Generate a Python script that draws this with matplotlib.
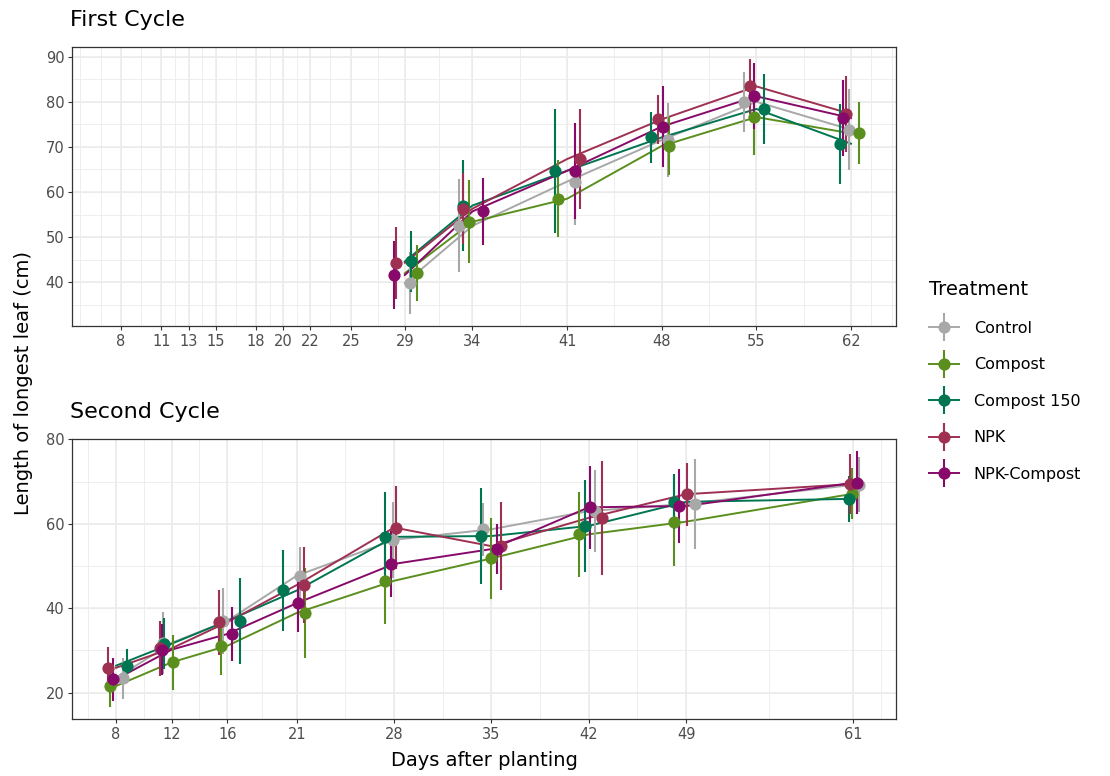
import matplotlib
matplotlib.use('Agg')
import matplotlib.pyplot as plt
from matplotlib.lines import Line2D
from matplotlib.legend_handler import HandlerTuple
import numpy as np

plt.rcParams['font.family'] = ['DejaVu Sans']

treatments = ['Control', 'Compost', 'Compost 150', 'NPK', 'NPK-Compost']
colors = ['#A8A8A8', '#5A8F1E', '#007552', '#9E3052', '#870A6A']

# ---- First cycle ----
days_1 = [29, 34, 41, 48, 55, 62]
breaks_1 = [8, 11, 13, 15, 18, 20, 22, 25, 29, 34, 41, 48, 55, 62]
mean_1 = [
    [39.8, 52.5, 62.3, 71.5, 80.0, 73.8],   # Control
    [42.0, 53.4, 58.5, 70.2, 76.6, 73.0],   # Compost
    [44.6, 57.0, 64.7, 72.1, 78.4, 70.7],   # Compost 150
    [44.3, 56.3, 67.3, 76.1, 83.4, 77.3],   # NPK
    [41.6, 55.7, 64.7, 74.5, 81.2, 76.4],   # NPK-Compost
]
sd_1 = [
    [6.8, 10.3, 9.7, 8.2, 6.7, 9.0],
    [6.2, 9.2, 8.5, 6.5, 8.4, 6.9],
    [6.8, 10.0, 13.8, 5.6, 7.8, 8.9],
    [8.0, 7.8, 11.0, 5.5, 6.1, 8.4],
    [7.5, 7.5, 10.6, 8.9, 7.3, 8.4],
]
# jitter of points / error bars (days)
jit_1 = [
    [0.35, -0.96, 0.59, 0.44, -0.94, -0.13],
    [0.91, -0.27, -0.64, 0.54, -0.15, 0.59],
    [0.47, -0.72, -0.89, -0.76, 0.54, -0.81],
    [-0.69, -0.67, 0.96, -0.27, -0.44, -0.37],
    [-0.81, 0.81, 0.59, 0.10, -0.20, -0.57],
]

# ---- Second cycle ----
days_2 = [8, 12, 16, 21, 28, 35, 42, 49, 61]
breaks_2 = [8, 12, 16, 21, 28, 35, 42, 49, 61]
mean_2 = [
    [23.4, 31.8, 37.0, 47.7, 56.2, 58.7, 63.0, 64.7, 69.2],
    [21.6, 27.2, 31.1, 38.9, 46.5, 51.8, 57.5, 60.5, 67.1],
    [26.4, 31.6, 37.0, 44.2, 56.9, 57.1, 59.5, 65.2, 65.9],
    [25.9, 30.5, 36.7, 45.5, 59.1, 54.7, 61.4, 67.0, 69.4],
    [23.2, 30.2, 33.9, 41.2, 50.5, 54.0, 63.9, 64.2, 69.7],
]
sd_2 = [
    [4.9, 7.3, 7.8, 6.9, 9.0, 6.3, 9.7, 10.6, 6.5],
    [4.9, 6.5, 6.9, 10.6, 10.2, 9.6, 10.0, 10.6, 6.0],
    [4.0, 6.0, 10.2, 9.7, 10.6, 11.4, 10.9, 6.5, 5.5],
    [5.0, 6.5, 7.7, 9.0, 9.8, 10.5, 13.5, 7.5, 7.1],
    [5.1, 6.0, 6.5, 6.8, 7.9, 6.0, 9.8, 8.8, 7.5],
]
jit_2 = [
    [0.53, -0.60, -0.28, 0.24, -0.05, -0.62, 0.46, 0.65, 0.45],
    [-0.43, 0.08, -0.45, 0.60, -0.65, 0.00, -0.69, -0.86, -0.08],
    [0.77, -0.58, 0.92, -0.96, -0.65, -0.76, -0.26, -0.86, -0.25],
    [-0.55, -0.83, -0.57, 0.53, 0.14, 0.68, 0.94, 0.10, -0.20],
    [-0.19, -0.70, 0.32, 0.07, -0.24, 0.43, 0.10, -0.50, 0.28],
]

GRID = '#EBEBEB'
DARK = '#333333'


def minor_from(breaks, lo, hi):
    # ggplot style: midpoints between breaks, extended one step outside
    b = list(breaks)
    d = b[1] - b[0]
    if lo < b[0]:
        b = [b[0] - d] + b
    if hi > b[-1]:
        b = b + [b[-1] + d]
    out = []
    for a, c in zip(b[:-1], b[1:]):
        out += [a, (a + c) / 2]
    out.append(b[-1])
    return [m for m in out if lo <= m <= hi]


def style_axes(ax, xbreaks, xlim, ybreaks, ylim):
    ax.set_xlim(*xlim)
    ax.set_ylim(*ylim)
    for m in minor_from(xbreaks, *xlim):
        ax.axvline(m, color=GRID, lw=0.6, zorder=0)
    for m in minor_from(ybreaks, *ylim):
        ax.axhline(m, color=GRID, lw=0.6, zorder=0)
    for b in xbreaks:
        ax.axvline(b, color=GRID, lw=1.1, zorder=0)
    for b in ybreaks:
        ax.axhline(b, color=GRID, lw=1.1, zorder=0)
    ax.set_xticks(xbreaks)
    ax.set_yticks(ybreaks)
    ax.tick_params(length=3, width=0.8, color=DARK, labelcolor='#4D4D4D',
                   labelsize=10.5, pad=2.5)
    for s in ax.spines.values():
        s.set_color(DARK)
        s.set_linewidth(0.9)


def draw_cycle(ax, days, means, sds, jits):
    days = np.array(days, dtype=float)
    for i, t in enumerate(treatments):
        ax.plot(days, means[i], color=colors[i], lw=1.4, zorder=2)
    for i, t in enumerate(treatments):
        xj = days + np.array(jits[i])
        ax.errorbar(xj, means[i], yerr=sds[i], fmt='none', ecolor=colors[i],
                    elinewidth=1.5, capsize=0, zorder=3)
    for i, t in enumerate(treatments):
        xj = days + np.array(jits[i])
        ax.plot(xj, means[i], 'o', color=colors[i], ms=8.8, mec='none', zorder=4)


fig = plt.figure(figsize=(11.10, 7.76), dpi=100)
W, H = 1110, 776

ax1 = fig.add_axes([72 / W, 1 - 326 / H, 824 / W, 279.3 / H])
ax2 = fig.add_axes([72 / W, 1 - 719.3 / H, 824 / W, 280 / H])

style_axes(ax1, breaks_1, (4.38, 65.33), [40, 50, 60, 70, 80, 90], (30.3, 92.2))
style_axes(ax2, breaks_2, (4.83, 64.1), [20, 40, 60, 80], (13.7, 80.0))

draw_cycle(ax1, days_1, mean_1, sd_1, jit_1)
draw_cycle(ax2, days_2, mean_2, sd_2, jit_2)

fig.text(70 / W, 1 - 20 / H, 'First Cycle', fontsize=16, ha='left', va='center')
fig.text(70 / W, 1 - 412 / H, 'Second Cycle', fontsize=16, ha='left', va='center')
fig.text(24 / W, 1 - 383 / H, 'Length of longest leaf (cm)', fontsize=14,
         rotation=90, ha='center', va='center')
fig.text(484 / W, 1 - 761 / H, 'Days after planting', fontsize=14,
         ha='center', va='center')

handles = []
for c in colors:
    h_line = Line2D([], [], color=c, lw=1.4)
    h_bar = Line2D([], [], color=c, marker='|', ms=20, mew=1.5, ls='none')
    h_pt = Line2D([], [], color=c, marker='o', ms=8.8, mec='none', ls='none')
    handles.append((h_line, h_bar, h_pt))

leg = fig.legend(handles, treatments, handler_map={tuple: HandlerTuple(ndivide=1, pad=0)},
                 loc='upper left', bbox_to_anchor=(929 / W, 1 - 280 / H),
                 frameon=False, fontsize=11.5, title='Treatment', title_fontsize=14,
                 alignment='left', borderpad=0, borderaxespad=0, numpoints=1,
                 handlelength=1.9, handletextpad=0.9, labelspacing=1.35)

fig.savefig('out.png', dpi=100)
